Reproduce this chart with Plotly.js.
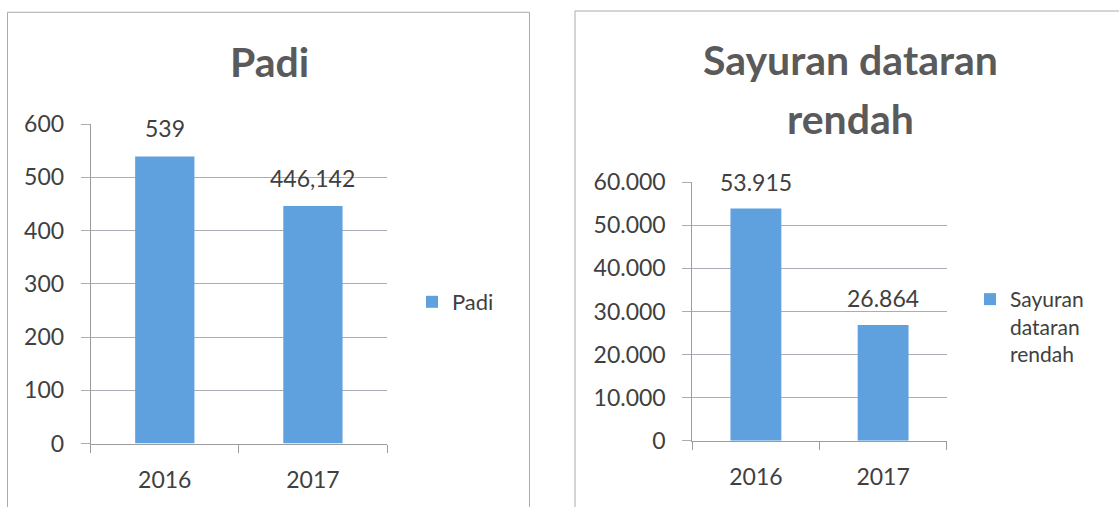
<!DOCTYPE html>
<html>
<head>
<meta charset="utf-8">
<script src="https://cdn.plot.ly/plotly-3.0.1.min.js"></script>
<style>
  html, body { margin: 0; padding: 0; background: #ffffff; }
  #chart { width: 1119px; height: 507px; }
</style>
</head>
<body>
<div id="chart"></div>
<script>
// ---- data ----
var years = ["2016", "2017"];
var padiValues = [539, 446.142];
var sayuranValues = [53915, 26864];
var padiTitle = "Padi";
var sayuranTitleLines = ["Sayuran dataran", "rendah"];
var padiLegend = "Padi";
var sayuranLegend = "Sayuran<br>dataran<br>rendah";
var padiTicks = [0, 100, 200, 300, 400, 500, 600];
var sayuranTicks = [0, 10000, 20000, 30000, 40000, 50000, 60000];

// ---- helpers ----
var W = 1119, H = 507;
function px(x) { return x / W; }
function py(y) { return 1 - y / H; }
function fmtDecComma(v) { return String(v).replace('.', ','); }
function fmtThousandsDot(v) { return String(Math.round(v)).replace(/\B(?=(\d{3})+(?!\d))/g, '.'); }

var barColor = '#5ea1de';
var textColor = '#404040';
var gridColor = '#a9adb5';
var axisColor = '#9c9c9c';
var FONT = 'Lato, "Open Sans", sans-serif';

var traces = [
  {
    type: 'bar', x: years, y: padiValues, name: padiLegend,
    marker: { color: barColor }, xaxis: 'x', yaxis: 'y', legend: 'legend',
    hoverinfo: 'x+y'
  },
  {
    type: 'bar', x: years, y: sayuranValues, name: sayuranLegend,
    marker: { color: barColor }, xaxis: 'x2', yaxis: 'y2', legend: 'legend2',
    hoverinfo: 'x+y'
  }
];

var annotations = [];
// data labels (category axes: x given as category index)
years.forEach(function (yr, i) {
  annotations.push({
    xref: 'x', yref: 'y', x: i, y: padiValues[i], text: fmtDecComma(padiValues[i]),
    showarrow: false, yanchor: 'middle', yshift: 28,
    font: { family: FONT, size: 23, color: textColor }
  });
  annotations.push({
    xref: 'x2', yref: 'y2', x: i, y: sayuranValues[i], text: fmtThousandsDot(sayuranValues[i]),
    showarrow: false, yanchor: 'middle', yshift: 27,
    font: { family: FONT, size: 23, color: textColor }
  });
});
// titles
var titleFont = { family: FONT, size: 41, color: '#5a5a5a', weight: 'bold' };
annotations.push({
  xref: 'paper', yref: 'paper', x: px(269.5), y: py(62), text: '<b>' + padiTitle + '</b>',
  showarrow: false, xanchor: 'center', yanchor: 'middle', font: titleFont
});
sayuranTitleLines.forEach(function (line, i) {
  annotations.push({
    xref: 'paper', yref: 'paper', x: px(850), y: py(i === 0 ? 60 : 118.3), text: '<b>' + line + '</b>',
    showarrow: false, xanchor: 'center', yanchor: 'middle', font: titleFont
  });
});

function yAxis(domain, range, ticks, fmt, anchor) {
  return {
    domain: domain, anchor: anchor, range: range, tickvals: ticks, ticktext: ticks.map(fmt),
    showgrid: true, gridcolor: gridColor, gridwidth: 1,
    showline: true, linecolor: axisColor, linewidth: 1,
    ticks: 'outside', ticklen: 9, tickcolor: gridColor, tickwidth: 1,
    ticklabelstandoff: 12,
    zeroline: false, fixedrange: true,
    tickfont: { family: FONT, size: 23, color: textColor }
  };
}
function xAxis(domain, anchor) {
  return {
    domain: domain, anchor: anchor, type: 'category', range: [-0.5, 1.5],
    showline: true, linecolor: axisColor, linewidth: 1,
    ticks: 'outside', tickson: 'boundaries', ticklen: 8, tickcolor: axisColor, tickwidth: 1,
    ticklabelstandoff: 16,
    showgrid: false, fixedrange: true,
    tickfont: { family: FONT, size: 23, color: textColor }
  };
}

var layout = {
  width: W, height: H,
  margin: { l: 0, r: 0, t: 0, b: 0 },
  paper_bgcolor: '#ffffff', plot_bgcolor: 'rgba(0,0,0,0)',
  separators: ',.',
  bargap: 0.6,
  showlegend: true,
  xaxis: xAxis([px(90.7), px(387)], 'y'),
  yaxis: yAxis([py(443.5), py(124)], [0, 600], padiTicks, function (v) { return String(v); }, 'x'),
  xaxis2: xAxis([px(692.3), px(946.7)], 'y2'),
  yaxis2: yAxis([py(440.7), py(182.3)], [0, 60000], sayuranTicks, fmtThousandsDot, 'x2'),
  legend: {
    x: px(412), y: py(302), xanchor: 'left', yanchor: 'middle',
    bgcolor: 'rgba(0,0,0,0)', borderwidth: 0,
    font: { family: FONT, size: 22, color: textColor }
  },
  legend2: {
    x: px(970), y: py(279), xanchor: 'left', yanchor: 'top', valign: 'top',
    bgcolor: 'rgba(0,0,0,0)', borderwidth: 0,
    font: { family: FONT, size: 21, color: textColor }
  },
  annotations: annotations,
  shapes: [
    { type: 'rect', xref: 'paper', yref: 'paper', x0: px(7.5), x1: px(529.5), y0: py(12.3), y1: py(530),
      line: { color: '#ababab', width: 1 }, layer: 'below' },
    { type: 'rect', xref: 'paper', yref: 'paper', x0: px(575), x1: px(1140), y0: py(11), y1: py(530),
      line: { color: '#ababab', width: 1 }, layer: 'below' }
  ]
};

Plotly.newPlot('chart', traces, layout, { displayModeBar: false, staticPlot: true });
</script>
</body>
</html>
